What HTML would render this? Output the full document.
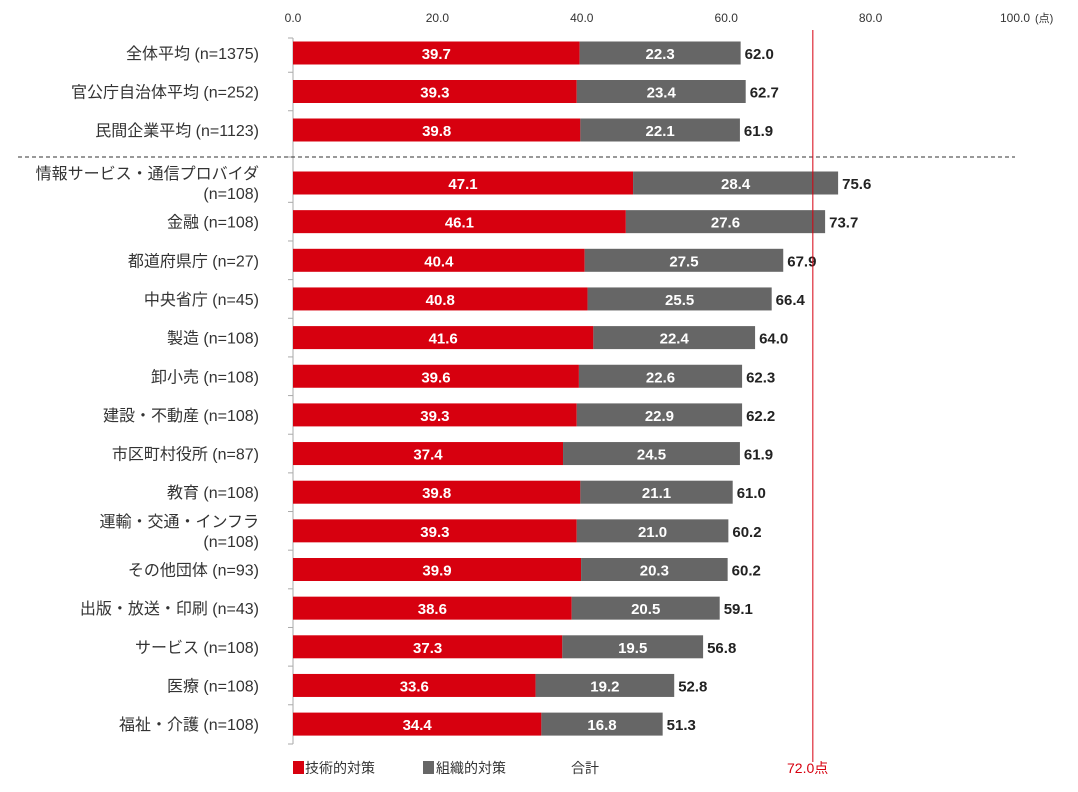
<!DOCTYPE html>
<html><head><meta charset="utf-8"><style>
body{margin:0;background:#fff;}
svg text{font-family:"Liberation Sans","Noto Sans CJK JP",sans-serif;}
</style></head><body>
<svg id="chart" width="1078" height="787" xmlns="http://www.w3.org/2000/svg"></svg>
<script>
const categories=["全体平均 (n=1375)","官公庁自治体平均 (n=252)","民間企業平均 (n=1123)","情報サービス・通信プロバイダ|(n=108)","金融 (n=108)","都道府県庁 (n=27)","中央省庁 (n=45)","製造 (n=108)","卸小売 (n=108)","建設・不動産 (n=108)","市区町村役所 (n=87)","教育 (n=108)","運輸・交通・インフラ|(n=108)","その他団体 (n=93)","出版・放送・印刷 (n=43)","サービス (n=108)","医療 (n=108)","福祉・介護 (n=108)"];
const techValues=[39.7,39.3,39.8,47.1,46.1,40.4,40.8,41.6,39.6,39.3,37.4,39.8,39.3,39.9,38.6,37.3,33.6,34.4];
const orgValues=[22.3,23.4,22.1,28.4,27.6,27.5,25.5,22.4,22.6,22.9,24.5,21.1,21.0,20.3,20.5,19.5,19.2,16.8];
const totalValues=[62.0,62.7,61.9,75.6,73.7,67.9,66.4,64.0,62.3,62.2,61.9,61.0,60.2,60.2,59.1,56.8,52.8,51.3];
const tickValues=[0,20,40,60,80,100];
const tickLabels=["0.0","20.0","40.0","60.0","80.0","100.0"];
const referenceValue=72.0;

const svg=document.getElementById('chart');
const NS='http://www.w3.org/2000/svg';
const x0=293, scale=7.22;
function xs(v){return x0+v*scale;}
function yc(i){return i<3?53+i*38.5:183+(i-3)*38.65;}
function mk(tag,attrs,txt){const e=document.createElementNS(NS,tag);for(const k in attrs)e.setAttribute(k,attrs[k]);if(txt!==undefined)e.textContent=txt;svg.appendChild(e);return e;}

tickValues.forEach((v,i)=>{
  const t=mk('text',{x:xs(v),y:22,'font-size':12,'text-anchor':'middle',fill:'#333'},tickLabels[i]);
  
  
});
const u=mk('text',{x:xs(100)+20,y:22,'font-size':11,'text-anchor':'start',fill:'#333'},'(点)');


const ax=mk('line',{x1:x0,y1:38,x2:x0,y2:744,stroke:'#aaa','stroke-width':1});


mk('line',{x1:x0-5,y1:38,x2:x0,y2:38,stroke:'#aaa'});
for(let i=0;i<categories.length;i++){
  const yb=(i===categories.length-1)?744:(i===2?157:(yc(i)+yc(i+1))/2);
  mk('line',{x1:x0-5,y1:yb,x2:x0,y2:yb,stroke:'#aaa'});
}
const sep=mk('line',{x1:18,y1:157,x2:1015,y2:157,stroke:'#333','stroke-dasharray':'4,3','stroke-width':1});



categories.forEach((c,i)=>{
  const y=yc(i), h=23;
  const parts=c.split('|');
  if(parts.length===1){
    const t=mk('text',{x:259,y:y+6,'font-size':16,'text-anchor':'end',fill:'#333'},c);
    
    
  } else {
    const t=mk('text',{x:259,y:y-4,'font-size':16,'text-anchor':'end',fill:'#333'},parts[0]);
    
    
    const t2=mk('text',{x:259,y:y+16,'font-size':16,'text-anchor':'end',fill:'#333'},parts[1]);
    
    
  }
  const r=mk('rect',{x:x0,y:y-h/2,width:techValues[i]*scale,height:h,fill:'#d7000f'});
  
  
  const g=mk('rect',{x:xs(techValues[i]),y:y-h/2,width:orgValues[i]*scale,height:h,fill:'#666'});
  
  
  const tl=mk('text',{x:x0+techValues[i]*scale/2,y:y+6,'font-size':15,'font-weight':'bold','text-anchor':'middle',fill:'#fff'},techValues[i].toFixed(1));
  
  
  const ol=mk('text',{x:xs(techValues[i])+orgValues[i]*scale/2,y:y+6,'font-size':15,'font-weight':'bold','text-anchor':'middle',fill:'#fff'},orgValues[i].toFixed(1));
  
  
  const tt=mk('text',{x:xs(techValues[i]+orgValues[i])+4,y:y+6,'font-size':15,'font-weight':'bold','text-anchor':'start',fill:'#222'},totalValues[i].toFixed(1));
  
  
});
const rl=mk('line',{x1:xs(referenceValue),y1:30,x2:xs(referenceValue),y2:762,stroke:'#d7000f','stroke-width':1});



const l1=mk('rect',{x:293,y:761,width:11,height:13,fill:'#d7000f'});


const lt1=mk('text',{x:305,y:773,'font-size':14,fill:'#333'},'技術的対策');


const l2=mk('rect',{x:423,y:761,width:11,height:13,fill:'#666'});


const lt2=mk('text',{x:436,y:773,'font-size':14,fill:'#333'},'組織的対策');


const lt3=mk('text',{x:571,y:773,'font-size':14,fill:'#333'},'合計');


const lt4=mk('text',{x:787,y:773,'font-size':14,fill:'#d7000f'},referenceValue.toFixed(1)+'点');


</script>
</body></html>
